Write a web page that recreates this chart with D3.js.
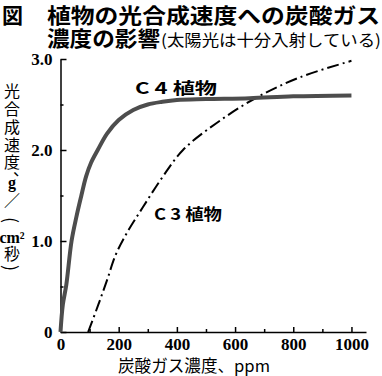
<!DOCTYPE html>
<html>
<head>
<meta charset="utf-8">
<title>植物の光合成速度への炭酸ガス濃度の影響</title>
<style>
  body { margin: 0; background: #fff; }
</style>
</head>
<body>
<div id="chart"></div>
<script src="https://cdn.jsdelivr.net/npm/d3@7"></script>
<script>
// data (ppm, g/(cm2*s))
var c4Ppm   = [0, 8, 20, 38, 55, 71, 88, 105, 128, 160, 200, 250, 300, 350, 400, 500, 650, 800, 1000];
var c4Rate  = [0, 0.3, 0.52, 1.0, 1.27, 1.49, 1.71, 1.86, 2.0, 2.18, 2.33, 2.44, 2.5, 2.53, 2.55, 2.56, 2.57, 2.59, 2.6];
var c3Ppm   = [95, 130, 160, 190, 230, 283, 350, 421, 538, 676, 824, 1000];
var c3Rate  = [0, 0.3, 0.57, 0.85, 1.1, 1.37, 1.7, 2.0, 2.3, 2.58, 2.8, 2.98];
var xTicks  = [0, 200, 400, 600, 800, 1000];
var xMinor  = [100, 300, 500, 700, 900];
var yTicks  = [0, 1, 2, 3];
var yMinor  = [0.5, 1.5, 2.5];
var yTickLabels = ["0", "1.0", "2.0", "3.0"];

var W = 382, H = 376;
var JP = '"Noto Sans CJK JP", sans-serif';
var SERIF = '"Liberation Serif", "DejaVu Serif", serif';

var svg = d3.select("#chart").append("svg")
  .attr("width", W)
  .attr("height", H);

// scales
var x = d3.scaleLinear().domain([0, 1050]).range([60.5, 366]);
var y = d3.scaleLinear().domain([0, 3]).range([332, 59]);

// title
svg.append("text").style("font-family", JP)
  .attr("x", 2).attr("y", 23)
  .attr("font-size", 21).attr("font-weight", 700)
  .text("図");
svg.append("text").style("font-family", JP)
  .attr("x", 47).attr("y", 23)
  .attr("font-size", 21).attr("font-weight", 700)
  .attr("textLength", 333).attr("lengthAdjust", "spacingAndGlyphs")
  .text("植物の光合成速度への炭酸ガス");
svg.append("text").style("font-family", JP)
  .attr("x", 47).attr("y", 46)
  .attr("font-size", 21).attr("font-weight", 700)
  .attr("textLength", 113).attr("lengthAdjust", "spacingAndGlyphs")
  .text("濃度の影響");
svg.append("text").style("font-family", JP)
  .attr("x", 161).attr("y", 46)
  .attr("font-size", 16)
  .attr("textLength", 220).attr("lengthAdjust", "spacingAndGlyphs")
  .text("(太陽光は十分入射している)");

// x axis
var xAxis = svg.append("g")
  .attr("transform", "translate(0," + y(0) + ")")
  .call(d3.axisBottom(x).tickValues(xTicks).tickSize(-5).tickSizeOuter(0).tickPadding(6)
    .tickFormat(d3.format("d")));
svg.append("g")
  .attr("transform", "translate(0," + y(0) + ")")
  .call(d3.axisBottom(x).tickValues(xMinor).tickSize(-3).tickFormat(""))
  .select(".domain").remove();
xAxis.selectAll("text")
  .style("font-family", SERIF).style("font-weight", "bold")
  .attr("font-size", 17).attr("fill", "#000");

// y axis
var yAxis = svg.append("g")
  .attr("transform", "translate(" + x(0) + ",0)")
  .call(d3.axisLeft(y).tickValues(yTicks).tickSize(-6).tickSizeOuter(0).tickPadding(8)
    .tickFormat(function(d, i) { return yTickLabels[i]; }));
svg.append("g")
  .attr("transform", "translate(" + x(0) + ",0)")
  .call(d3.axisLeft(y).tickValues(yMinor).tickSize(-3).tickFormat(""))
  .select(".domain").remove();
yAxis.selectAll("text")
  .style("font-family", SERIF).style("font-weight", "bold")
  .attr("font-size", 17).attr("fill", "#000");

svg.selectAll(".domain, .tick line").attr("stroke", "#000").attr("stroke-width", 1.5);

// curves
var line = d3.line()
  .x(function(d) { return x(d[0]); })
  .y(function(d) { return y(d[1]); })
  .curve(d3.curveCatmullRom.alpha(0.5));

svg.append("path")
  .datum(d3.zip(c3Ppm, c3Rate))
  .attr("d", line)
  .attr("fill", "none")
  .attr("stroke", "#000")
  .attr("stroke-width", 2)
  .attr("stroke-dasharray", "12,4,2,4");

svg.append("path")
  .datum(d3.zip(c4Ppm, c4Rate))
  .attr("d", line)
  .attr("fill", "none")
  .attr("stroke", "#4d4d4d")
  .attr("stroke-width", 4);

// curve labels
svg.append("text").style("font-family", JP)
  .attr("x", 135).attr("y", 94)
  .attr("font-size", 16).attr("font-weight", 700)
  .attr("textLength", 82).attr("lengthAdjust", "spacingAndGlyphs")
  .text("C 4 植物");
svg.append("text").style("font-family", JP)
  .attr("x", 154).attr("y", 220)
  .attr("font-size", 16).attr("font-weight", 700)
  .attr("textLength", 68).attr("lengthAdjust", "spacingAndGlyphs")
  .text("C 3 植物");

// x axis title
svg.append("text").style("font-family", JP)
  .attr("x", 118).attr("y", 371.5)
  .attr("font-size", 16.5)
  .attr("textLength", 152).attr("lengthAdjust", "spacingAndGlyphs")
  .text("炭酸ガス濃度、ppm");

// y axis title: one glyph per text, CJK set vertically, latin upright,
// parentheses turned a quarter
var yTitle = [
  {t: "光", y: 91}, {t: "合", y: 109}, {t: "成", y: 127}, {t: "速", y: 145},
  {t: "度", y: 162}, {t: "、", y: 168, dx: 9, h: true}, {t: "g", y: 182, h: true, serif: true},
  {t: "／", y: 200}, {t: "(", y: 220, rot: true}, {t: "cm²", y: 237, h: true, serif: true},
  {t: "・", y: 246, h: true, fs: 11}, {t: "秒", y: 254}, {t: ")", y: 268, rot: true}
];
svg.append("g").selectAll("text")
  .data(yTitle)
  .enter().append("text")
  .style("font-family", function(d) { return d.serif ? SERIF : JP; })
  .style("font-weight", function(d) { return d.serif ? "bold" : null; })
  .style("writing-mode", function(d) { return (d.h || d.rot) ? null : "vertical-rl"; })
  .attr("x", function(d) { return 12 + (d.dx || 0); })
  .attr("y", function(d) { return (d.h || d.rot) ? d.y : d.y - 8; })
  .attr("text-anchor", function(d) { return (d.h || d.rot) ? "middle" : "start"; })
  .attr("dominant-baseline", function(d) { return (d.h || d.rot) ? "central" : null; })
  .attr("transform", function(d) { return d.rot ? "rotate(90," + 12 + "," + d.y + ")" : null; })
  .attr("font-size", function(d) { return d.fs || (d.rot ? 18 : 16); })
  .text(function(d) { return d.t; });
</script>
</body>
</html>
